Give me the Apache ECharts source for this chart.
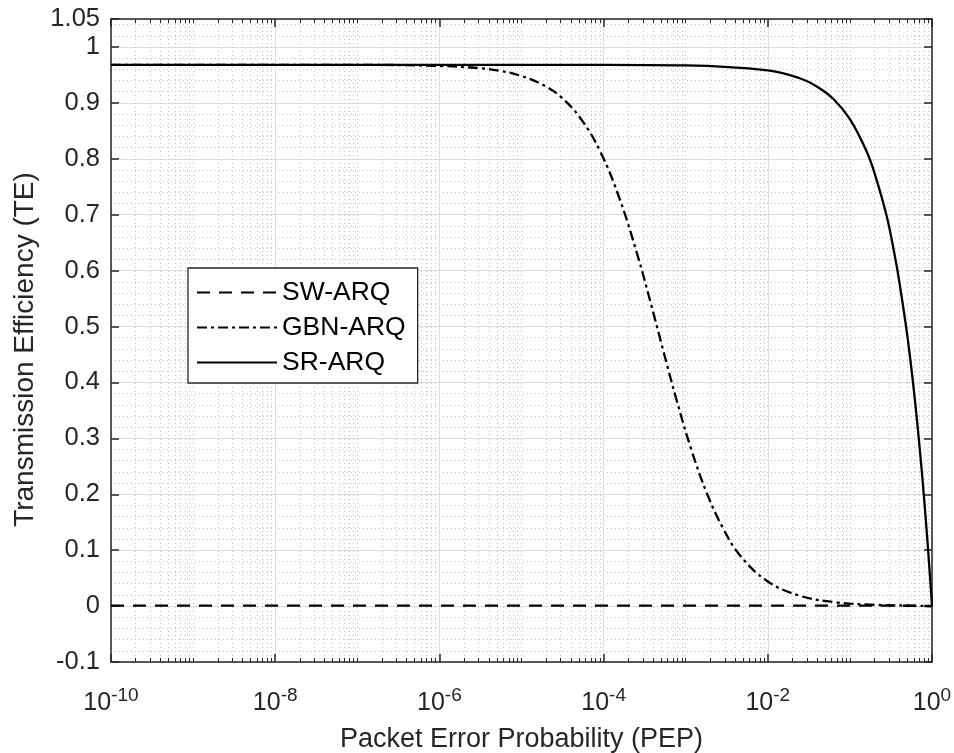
<!DOCTYPE html>
<html>
<head>
<meta charset="utf-8">
<script src="https://cdn.jsdelivr.net/npm/echarts@6/dist/echarts.min.js"></script>
<style>
  html, body { margin: 0; padding: 0; background: #fff; }
  #chart { width: 954px; height: 753px; }
</style>
</head>
<body>
<div id="chart"></div>
<script>
// values
const swPep = [1e-10, 1e-8, 1e-6, 1e-4, 1e-2, 1e-1, 0.5, 1];
const swTe = [0.001, 0.001, 0.001, 0.001, 0.001, 0.001, 0.0006, 0];

const gbnPep = [1e-10, 1e-8, 1e-7, 1e-6, 3.16e-6, 5.6e-6, 1e-5, 1.78e-5, 2.95e-5, 5.25e-5, 9.1e-5,
  1.58e-4, 2.63e-4, 3.72e-4, 5.37e-4, 7.76e-4, 1.17e-3, 1.82e-3, 2.88e-3, 4.57e-3, 9.8e-3,
  2.45e-2, 6.9e-2, 0.2, 0.5, 1];
const gbnTe = [0.968, 0.968, 0.968, 0.966, 0.962, 0.957, 0.948, 0.933, 0.912, 0.872, 0.813,
  0.727, 0.624, 0.544, 0.455, 0.368, 0.28, 0.201, 0.138, 0.091, 0.045,
  0.0185, 0.0066, 0.0023, 0.0009, 0];

const srPep = [1e-10, 1e-6, 1e-4, 1e-3, 1e-2, 2.45e-2, 4e-2, 6.3e-2, 0.1, 0.16, 0.2, 0.28, 0.355,
  0.4, 0.5, 0.6, 0.7, 0.8, 0.9, 0.95, 1];
const srTe = [0.968, 0.968, 0.968, 0.967, 0.958, 0.944, 0.929, 0.907, 0.871, 0.813, 0.774, 0.698, 0.624,
  0.58, 0.484, 0.387, 0.29, 0.194, 0.097, 0.048, 0];

const xMajorTicks = [1e-10, 1e-8, 1e-6, 1e-4, 1e-2, 1];
const yTicks = [-0.1, 0, 0.1, 0.2, 0.3, 0.4, 0.5, 0.6, 0.7, 0.8, 0.9, 1, 1.05];

// minor decade ticks 2..9 and the odd decades
let xMinorTicks = [];
for (let d = -10; d < 0; d++) {
  for (let k = 1; k <= 9; k++) {
    if (k === 1 && d % 2 === 0) continue;
    xMinorTicks.push(k * Math.pow(10, d));
  }
}

const pair = (xs, ys) => xs.map((x, i) => [x, ys[i]]);

let myChart = echarts.init(document.getElementById('chart'));
const gridBox = { left: 111, right: 22, top: 19, bottom: 91, outerBoundsMode: 'none' };
const font = 'Liberation Sans';
const ink = '#262626';

let option = {
  animation: false,
  backgroundColor: '#fff',
  textStyle: { fontFamily: font },
  grid: [Object.assign({}, gridBox), Object.assign({}, gridBox)],
  legend: {
    orient: 'vertical',
    left: 188, top: 268,
    padding: [11, 12, 7, 8],
    itemWidth: 80, itemHeight: 26, itemGap: 8,
    backgroundColor: '#fff',
    borderColor: ink, borderWidth: 1.3,
    itemStyle: { opacity: 0 },
    textStyle: { fontSize: 26.5, color: '#000', fontFamily: font },
    data: ['SW-ARQ', 'GBN-ARQ', 'SR-ARQ']
  },
  xAxis: [
    {
      type: 'log', logBase: 10, gridIndex: 0, position: 'bottom',
      min: 1e-10, max: 1,
      name: 'Packet Error Probability (PEP)', nameLocation: 'middle', nameGap: 64,
      nameTextStyle: { fontSize: 27, color: ink, fontFamily: font },
      axisLine: { onZero: false, lineStyle: { color: ink, width: 1.5 } },
      axisTick: { inside: true, length: 8, customValues: xMajorTicks, lineStyle: { color: ink, width: 1.5 } },
      axisLabel: {
        customValues: xMajorTicks, margin: 24, color: ink, fontSize: 25, fontFamily: font,
        formatter: v => '10{s|' + Math.round(Math.log10(v)) + '}',
        rich: { s: { fontSize: 19, fontFamily: font, color: ink, padding: [0, 0, 15, 0] } }
      },
      splitLine: { show: true, lineStyle: { color: '#dedede', width: 1 } }
    },
    {
      type: 'log', logBase: 10, gridIndex: 0, position: 'top',
      min: 1e-10, max: 1,
      axisLine: { onZero: false, lineStyle: { color: ink, width: 1.5 } },
      axisTick: { inside: true, length: 8, customValues: xMajorTicks, lineStyle: { color: ink, width: 1.5 } },
      axisLabel: { show: false },
      splitLine: { show: false }
    },
    {
      type: 'log', logBase: 10, gridIndex: 1, position: 'bottom',
      min: 1e-10, max: 1,
      axisLine: { show: false, onZero: false },
      axisTick: { inside: true, length: 4, customValues: xMinorTicks, lineStyle: { color: ink, width: 1 } },
      axisLabel: { show: false },
      splitLine: { show: true, lineStyle: { color: '#c2c2c2', width: 1, type: [1, 3] } }
    },
    {
      type: 'log', logBase: 10, gridIndex: 1, position: 'top',
      min: 1e-10, max: 1,
      axisLine: { show: false, onZero: false },
      axisTick: { inside: true, length: 4, customValues: xMinorTicks, lineStyle: { color: ink, width: 1 } },
      axisLabel: { show: false },
      splitLine: { show: false }
    }
  ],
  yAxis: [
    {
      type: 'value', gridIndex: 0, position: 'left',
      min: -0.1, max: 1.05, interval: 0.1,
      name: 'Transmission Efficiency (TE)', nameLocation: 'middle', nameGap: 68,
      nameTextStyle: { fontSize: 28, color: ink, fontFamily: font, padding: [0, 18, 0, 0] },
      axisLine: { show: true, onZero: false, lineStyle: { color: ink, width: 1.5 } },
      axisTick: { show: true, inside: true, length: 8, lineStyle: { color: ink, width: 1.5 } },
      axisLabel: {
        margin: 11, color: ink, fontSize: 25.5, fontFamily: font,
        customValues: yTicks,
        formatter: v => String(Math.round(v * 100) / 100)
      },
      splitLine: { show: true, lineStyle: { color: '#dedede', width: 1 } },
      minorTick: { show: false, splitNumber: 5 },
      minorSplitLine: { show: true, lineStyle: { color: '#c2c2c2', width: 1, type: [1, 3] } }
    },
    {
      type: 'value', gridIndex: 0, position: 'right',
      min: -0.1, max: 1.05, interval: 0.1,
      axisLine: { show: true, onZero: false, lineStyle: { color: ink, width: 1.5 } },
      axisTick: { show: true, inside: true, length: 8, lineStyle: { color: ink, width: 1.5 } },
      axisLabel: { show: false },
      splitLine: { show: false }
    },
    {
      type: 'value', gridIndex: 1, position: 'left',
      min: -0.1, max: 1.05, interval: 0.1,
      axisLine: { show: false, onZero: false }, axisTick: { show: false },
      axisLabel: { show: false }, splitLine: { show: false }
    }
  ],
  series: [
    {
      name: 'SW-ARQ', type: 'line', xAxisIndex: 0, yAxisIndex: 0,
      symbol: 'none', z: 3,
      lineStyle: { color: '#000', width: 2.3, type: [13, 9] },
      itemStyle: { color: '#000' },
      data: pair(swPep, swTe)
    },
    {
      name: 'GBN-ARQ', type: 'line', xAxisIndex: 0, yAxisIndex: 0,
      symbol: 'none', smooth: 0.4, z: 4,
      lineStyle: { color: '#000', width: 2.3, type: [10, 4, 3, 4] },
      itemStyle: { color: '#000' },
      data: pair(gbnPep, gbnTe)
    },
    {
      name: 'SR-ARQ', type: 'line', xAxisIndex: 0, yAxisIndex: 0,
      symbol: 'none', smooth: 0.4, z: 5,
      lineStyle: { color: '#000', width: 2.3 },
      itemStyle: { color: '#000' },
      data: pair(srPep, srTe)
    }
  ]
};

myChart.setOption(option);
</script>
</body>
</html>
